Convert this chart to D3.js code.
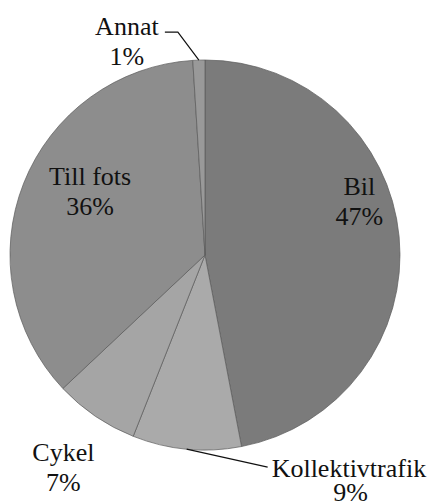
<!DOCTYPE html>
<html><head><meta charset="utf-8"><script src="https://cdn.jsdelivr.net/npm/d3@7"></script></head>
<body style="margin:0">
<svg id="chart" width="433" height="501"></svg>
<script>
// färdmedel, andel i procent
var categories = ["Bil", "Kollektivtrafik", "Cykel", "Till fots", "Annat"];
var values = [47, 9, 7, 36, 1];
var pctLabels = ["47%", "9%", "7%", "36%", "1%"];
var colors = ["#7b7b7b", "#aaaaaa", "#a5a5a5", "#8d8d8d", "#999999"];

var cx = 205, cy = 255, R = 195;

var svg = d3.select("#chart");
var g = svg.append("g").attr("transform", "translate(" + cx + "," + cy + ")");

var data = categories.map(function (c, i) {
    return { name: c, value: values[i], pct: pctLabels[i], color: colors[i] };
});

var pie = d3.pie().sort(null).value(function (d) { return d.value; });
var arcs = pie(data);
var arc = d3.arc().innerRadius(0).outerRadius(R);

g.selectAll("path.slice")
    .data(arcs)
    .enter().append("path")
    .attr("class", "slice")
    .attr("d", arc)
    .attr("fill", function (d) { return d.data.color; })
    .attr("stroke", "#5a5a5a")
    .attr("stroke-width", 0.7);

// point on a radius along the middle of a slice
function midPoint(d, r) {
    var a = (d.startAngle + d.endAngle) / 2;
    return [Math.sin(a) * r, -Math.cos(a) * r];
}

// label list: [x, y, text, anchor]
var labels = [];
function label(x, y, d) {
    labels.push([x, y, d.data.name, "middle"]);
    labels.push([x, y + 30, d.data.pct, "middle"]);
}

// inside labels (Bil, Till fots)
var pBil = midPoint(arcs[0], 155);
label(pBil[0], pBil[1] - 45, arcs[0]);
var pFots = midPoint(arcs[3], 130);
label(pFots[0] + 6, pFots[1] - 22, arcs[3]);

// Cykel, outside without leader
var pCyk = midPoint(arcs[2], 252);
label(pCyk[0], pCyk[1] - 2, arcs[2]);

// leader lines
var line = d3.line();
var pK = midPoint(arcs[1], R);
g.append("path")
    .attr("d", line([pK, [pK[0] + 81, pK[1] + 18]]))
    .attr("fill", "none").attr("stroke", "#111").attr("stroke-width", 1.2);
labels.push([pK[0] + 85, pK[1] + 28, arcs[1].data.name, "start"]);
labels.push([pK[0] + 164, pK[1] + 52, arcs[1].data.pct, "middle"]);

var pA = midPoint(arcs[4], R);
g.append("path")
    .attr("d", line([pA, [pA[0] - 21, pA[1] - 28], [pA[0] - 34, pA[1] - 28]]))
    .attr("fill", "none").attr("stroke", "#111").attr("stroke-width", 1.2);
label(pA[0] - 72, pA[1] - 25, arcs[4]);

g.selectAll("text.lbl")
    .data(labels)
    .enter().append("text")
    .attr("class", "lbl")
    .attr("x", function (d) { return d[0]; })
    .attr("y", function (d) { return d[1]; })
    .attr("text-anchor", function (d) { return d[3]; })
    .style("font-family", function () { return "Times New Roman"; })
    .attr("font-size", 26)
    .attr("fill", "#111")
    .text(function (d) { return d[2]; });
</script>
</body></html>
